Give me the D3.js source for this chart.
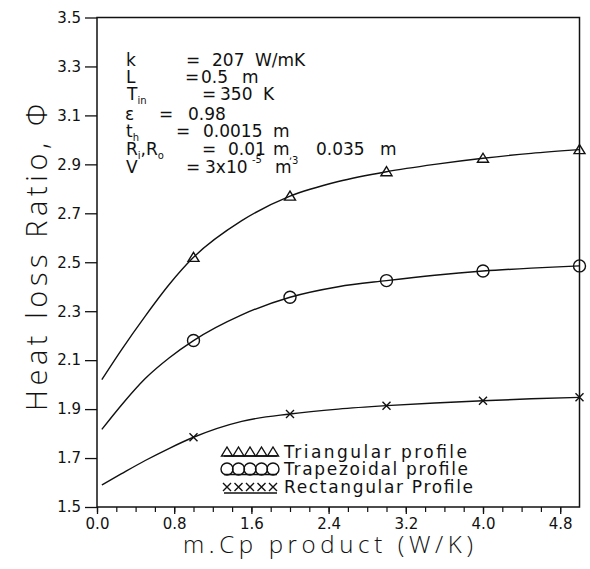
<!DOCTYPE html>
<html>
<head>
<meta charset="utf-8">
<script src="https://cdn.jsdelivr.net/npm/d3@7"></script>
<style>
  html, body { margin: 0; padding: 0; background: #fff; }
  svg { display: block; }
  text { font-family: "DejaVu Sans", "Liberation Sans", sans-serif; fill: #111; }
  .title { font-family: "Open Sans", "DejaVu Sans", sans-serif; font-weight: 300; }
</style>
</head>
<body>
<script>
// Heat loss ratio against the m.Cp product for three fin profiles
const mcpCurve    = [0.05, 0.25, 0.5, 0.75, 1.0, 1.5, 2.0, 2.5, 3.0, 3.5, 4.0, 4.5, 5.0];
const triangular  = [2.02, 2.14, 2.28, 2.41, 2.52, 2.67, 2.77, 2.83, 2.87, 2.90, 2.925, 2.945, 2.96];
const trapezoidal = [1.817, 1.915, 2.025, 2.11, 2.18, 2.285, 2.357, 2.40, 2.425, 2.447, 2.464, 2.476, 2.485];
const rectangular = [1.59, 1.635, 1.69, 1.74, 1.785, 1.85, 1.88, 1.90, 1.914, 1.925, 1.934, 1.942, 1.948];
const markerMcp   = [1.0, 2.0, 3.0, 4.0, 5.0];

const xTickLabels = [0.0, 0.8, 1.6, 2.4, 3.2, 4.0, 4.8];
const yTickLabels = [1.5, 1.7, 1.9, 2.1, 2.3, 2.5, 2.7, 2.9, 3.1, 3.3, 3.5];

const seriesNames  = ["Triangular profile", "Trapezoidal profile", "Rectangular Profile"];
const seriesShapes = ["triangle", "circle", "cross"];
const seriesValues = [triangular, trapezoidal, rectangular];

// Parameter block: each entry is [text, position] where position is "", "sub" or "sup"
const paramLabels = [
  [["k", ""]],
  [["L", ""]],
  [["T", ""], ["in", "sub"]],
  [["ε", ""]],
  [["t", ""], ["h", "sub"]],
  [["R", ""], ["i", "sub"], [",R", ""], ["o", "sub"]],
  [["V", ""]]
];
const paramValues = [
  ["207", "W/mK"],
  ["0.5", "m"],
  ["350", "K"],
  ["0.98"],
  ["0.0015", "m"],
  ["0.01", "m", "0.035", "m"],
  ["3x10", "m"]
];

const W = 590, H = 569;
const svg = d3.select("body").append("svg").attr("width", W).attr("height", H);

const x = d3.scaleLinear().domain([0, 5.0]).range([97, 579.5]);
const y = d3.scaleLinear().domain([1.5, 3.5]).range([507, 17.5]);

// frame
svg.append("rect")
  .attr("x", x(0)).attr("y", y(3.5))
  .attr("width", x(5.0) - x(0)).attr("height", y(1.5) - y(3.5))
  .attr("fill", "none").attr("stroke", "#111").attr("stroke-width", 1.5);

// y axis
const yAxis = svg.append("g").attr("transform", `translate(${x(0)},0)`)
  .call(d3.axisLeft(y).tickValues(yTickLabels).tickFormat(d3.format(".1f")).tickSize(12).tickPadding(4));
yAxis.select(".domain").remove();
yAxis.selectAll(".tick line").attr("stroke", "#111").attr("stroke-width", 1.3);
yAxis.selectAll(".tick text").style("font-size", "15px").style("font-family", "DejaVu Sans").attr("fill", "#111");

// x axis: minor ticks every 0.2, labelled ticks every 0.8
const minor = d3.range(0, 25).map(i => i * 0.2);
const xMinor = svg.append("g").attr("transform", `translate(0,${y(1.5)})`)
  .call(d3.axisBottom(x).tickValues(minor).tickSize(5));
xMinor.select(".domain").remove();
xMinor.selectAll(".tick text").remove();
xMinor.selectAll(".tick line").attr("stroke", "#111").attr("stroke-width", 1.2);

const xAxis = svg.append("g").attr("transform", `translate(0,${y(1.5)})`)
  .call(d3.axisBottom(x).tickValues(xTickLabels).tickFormat(d3.format(".1f")).tickSize(7).tickPadding(4));
xAxis.select(".domain").remove();
xAxis.selectAll(".tick line").attr("stroke", "#111").attr("stroke-width", 1.3);
xAxis.selectAll(".tick text").style("font-size", "15px").style("font-family", "DejaVu Sans").attr("fill", "#111");

// axis titles
svg.append("text").attr("class", "title")
  .attr("x", 183).attr("y", 553)
  .attr("textLength", 290).attr("lengthAdjust", "spacing")
  .style("font-size", "24px")
  .text("m.Cp  product  (W/K)");

svg.append("text").attr("class", "title")
  .attr("transform", "translate(47,411) rotate(-90)")
  .attr("textLength", 307).attr("lengthAdjust", "spacing")
  .style("font-size", "29px")
  .text("Heat loss Ratio, Φ");

// curves
const line = d3.line()
  .x((d, i) => x(mcpCurve[i]))
  .y(d => y(d))
  .curve(d3.curveMonotoneX);

seriesValues.forEach(vals => {
  svg.append("path")
    .attr("d", line(vals))
    .attr("fill", "none").attr("stroke", "#111").attr("stroke-width", 1.4);
});

// markers
function drawMarker(g, shape, cx, cy) {
  if (shape === "triangle") {
    g.append("path")
      .attr("d", `M${cx - 5.5},${cy + 4}L${cx},${cy - 5}L${cx + 5.5},${cy + 4}Z`)
      .attr("fill", "none").attr("stroke", "#111").attr("stroke-width", 1.4);
  } else if (shape === "circle") {
    g.append("circle").attr("cx", cx).attr("cy", cy).attr("r", 6)
      .attr("fill", "none").attr("stroke", "#111").attr("stroke-width", 1.4);
  } else {
    g.append("path")
      .attr("d", `M${cx - 4},${cy - 4}L${cx + 4},${cy + 4}M${cx - 4},${cy + 4}L${cx + 4},${cy - 4}`)
      .attr("fill", "none").attr("stroke", "#111").attr("stroke-width", 1.4);
  }
}

const marks = svg.append("g");
seriesValues.forEach((vals, s) => {
  markerMcp.forEach(m => {
    const idx = mcpCurve.indexOf(m);
    drawMarker(marks, seriesShapes[s], x(m), y(vals[idx]));
  });
});

// legend
const legend = svg.append("g");
const legendRowY = [452, 469, 487];
const legendWidths = [183, 184, 189];
seriesNames.forEach((name, r) => {
  const cy = legendRowY[r];
  for (let k = 0; k < 5; k++) drawMarker(legend, seriesShapes[r], 227 + k * 11.5, cy);
  const uy = seriesShapes[r] === "triangle" ? cy + 4 : seriesShapes[r] === "circle" ? cy + 5.5 : cy + 6;
  legend.append("line")
    .attr("x1", 224).attr("x2", 277).attr("y1", uy).attr("y2", uy)
    .attr("stroke", "#111").attr("stroke-width", 1.4);
  legend.append("text")
    .attr("x", 284).attr("y", cy + 5.5)
    .attr("textLength", legendWidths[r]).attr("lengthAdjust", "spacing")
    .style("font-size", "17px")
    .text(name);
});

// parameter block
const pLayout = [
  { y: 66,  label: 126, eq: 186, vals: [212, 255] },
  { y: 83,  label: 126, eq: 185, vals: [201, 242] },
  { y: 100, label: 127, eq: 202, vals: [220, 263] },
  { y: 120, label: 125, eq: 159, vals: [188] },
  { y: 137, label: 126, eq: 176, vals: [203, 273] },
  { y: 155, label: 126, eq: 202, vals: [228, 273, 316, 380] },
  { y: 173, label: 126, eq: 186, vals: [205, 275] }
];
const params = svg.append("g").style("font-size", "17px");
paramLabels.forEach((parts, i) => {
  const L = pLayout[i];
  const t = params.append("text").attr("x", L.label).attr("y", L.y);
  let shift = 0;
  parts.forEach(([txt, pos]) => {
    const target = pos === "sub" ? 4 : pos === "sup" ? -7 : 0;
    t.append("tspan")
      .attr("dy", target - shift)
      .style("font-size", pos ? "10px" : "17px")
      .text(txt);
    shift = target;
  });
  params.append("text").attr("x", L.eq).attr("y", L.y).text("=");
  paramValues[i].forEach((v, j) => {
    params.append("text").attr("x", L.vals[j]).attr("y", L.y).text(v);
  });
});
// subscript comma and exponents on the value lines
params.append("text").attr("x", 289).attr("y", 159).style("font-size", "10px").text(",");
params.append("text").attr("x", 252).attr("y", 163).style("font-size", "10px").text("-5");
params.append("text").attr("x", 292).attr("y", 164).style("font-size", "10px").text("3");
</script>
</body>
</html>
